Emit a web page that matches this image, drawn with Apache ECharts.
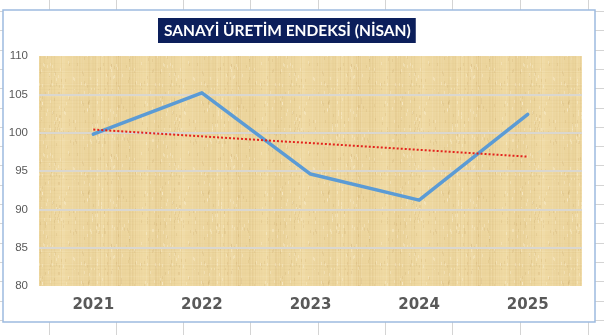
<!DOCTYPE html>
<html>
<head>
<meta charset="utf-8">
<script src="https://cdn.jsdelivr.net/npm/echarts@6/dist/echarts.min.js"></script>
<style>
  html, body { margin: 0; padding: 0; background: #ffffff; }
  #chart { width: 604px; height: 335px; }
</style>
</head>
<body>
<div id="chart"></div>
<script>
// Sanayi üretim endeksi, Nisan ayı değerleri
const years = ['2021', '2022', '2023', '2024', '2025'];
const indexValues = [99.8, 105.2, 94.6, 91.2, 102.4];
const yTicks = [80, 85, 90, 95, 100, 105, 110];
const chartTitle = 'SANAYİ ÜRETİM ENDEKSİ (NİSAN)';

// Least-squares linear trend over the yearly values
function linearTrend(values) {
  const n = values.length;
  const xm = (n - 1) / 2;
  const ym = values.reduce((a, b) => a + b, 0) / n;
  let sxy = 0, sxx = 0;
  values.forEach((v, i) => { sxy += (i - xm) * (v - ym); sxx += (i - xm) * (i - xm); });
  const slope = sxy / sxx;
  return values.map((_, i) => +(ym + slope * (i - xm)).toFixed(3));
}
const trendValues = linearTrend(indexValues);

// Papyrus-like texture tile for the plot area (deterministic streaks)
function papyrusTile() {
  const w = 120, h = 90;
  const c = document.createElement('canvas');
  c.width = w; c.height = h;
  const g = c.getContext('2d');
  g.fillStyle = '#efd9a2';
  g.fillRect(0, 0, w, h);
  const hash = (n) => { const s = Math.sin(n * 12.9898) * 43758.5453; return s - Math.floor(s); };
  // broad soft vertical bands
  for (let x = 0; x < w; x++) {
    const band = 0.5 + 0.5 * Math.sin(x / w * Math.PI * 6 + 1.3);
    g.fillStyle = 'rgba(205,170,100,' + (band * 0.08).toFixed(3) + ')';
    g.fillRect(x, 0, 1, h);
  }
  // fine vertical fibres
  for (let x = 0; x < w; x++) {
    const a = hash(x + 1);
    if (a > 0.6) {
      g.fillStyle = 'rgba(195,155,85,' + ((a - 0.6) * 0.35).toFixed(3) + ')';
      g.fillRect(x, 0, 1, h);
    } else if (a < 0.2) {
      g.fillStyle = 'rgba(255,246,220,' + ((0.2 - a) * 0.8).toFixed(3) + ')';
      g.fillRect(x, 0, 1, h);
    }
  }
  // faint horizontal fibres
  for (let y = 0; y < h; y++) {
    const b = hash(y * 7 + 31);
    if (b > 0.75) {
      g.fillStyle = 'rgba(195,155,85,' + ((b - 0.75) * 0.25).toFixed(3) + ')';
      g.fillRect(0, y, w, 1);
    } else if (b < 0.12) {
      g.fillStyle = 'rgba(255,246,220,' + ((0.12 - b) * 1.2).toFixed(3) + ')';
      g.fillRect(0, y, w, 1);
    }
  }
  for (let i = 0; i < 260; i++) {
    const x = Math.floor(hash(i * 3 + 5) * w);
    const y = Math.floor(hash(i * 5 + 11) * h);
    g.fillStyle = hash(i * 13 + 2) > 0.5 ? 'rgba(175,135,65,0.12)' : 'rgba(255,250,228,0.3)';
    g.fillRect(x, y, 1, 3);
  }
  return c;
}

// Spreadsheet cell lines behind the chart panel
const sheetLines = [];
const colXs = [49, 116, 183, 250, 318, 385, 452, 520, 588];
colXs.forEach(x => sheetLines.push({
  type: 'line', silent: true, z: -10,
  shape: { x1: x + 0.5, y1: 0, x2: x + 0.5, y2: 335 },
  style: { stroke: '#d4d4d4', lineWidth: 1 }
}));
for (let k = 0; k < 18; k++) {
  const y = Math.round(11 + 19.3 * k) + 0.5;
  sheetLines.push({
    type: 'line', silent: true, z: -10,
    shape: { x1: 0, y1: y, x2: 604, y2: y },
    style: { stroke: '#d4d4d4', lineWidth: 1 }
  });
}

const chart = echarts.init(document.getElementById('chart'), null, { renderer: 'canvas' });

const gridColors = yTicks.map((t, i) => (i === 0 || i === yTicks.length - 1) ? 'rgba(0,0,0,0)' : '#dad7cf');

chart.setOption({
  animation: false,
  backgroundColor: '#ffffff',
  graphic: sheetLines.concat([{
    type: 'rect', silent: true, z: -5,
    shape: { x: 3, y: 10, width: 592, height: 312 },
    style: { fill: '#ffffff', stroke: '#9dbbe0', lineWidth: 1.5 }
  }]),
  title: {
    text: chartTitle,
    left: 158,
    top: 18,
    backgroundColor: '#0c1f5b',
    padding: [5, 5, 4, 6],
    textStyle: {
      color: '#ffffff',
      fontFamily: 'Lato',
      fontWeight: 'bold',
      fontSize: 15.5,
      lineHeight: 16
    }
  },
  grid: {
    left: 39, right: 22, top: 56, bottom: 49,
    show: true,
    borderWidth: 0,
    backgroundColor: { image: papyrusTile(), repeat: 'repeat' }
  },
  xAxis: {
    type: 'category',
    data: years,
    boundaryGap: true,
    axisLine: { show: false },
    axisTick: { show: false },
    axisLabel: {
      margin: 12,
      color: '#595959',
      fontFamily: 'DejaVu Sans',
      fontWeight: 'bold',
      fontSize: 15
    }
  },
  yAxis: {
    type: 'value',
    min: yTicks[0],
    max: yTicks[yTicks.length - 1],
    interval: yTicks[1] - yTicks[0],
    axisLine: { show: false },
    axisTick: { show: false },
    axisLabel: {
      margin: 11,
      color: '#595959',
      fontFamily: 'Liberation Sans',
      fontSize: 11.5
    },
    splitLine: { show: true, lineStyle: { color: gridColors, width: 2 } }
  },
  series: [
    {
      name: 'Endeks',
      type: 'line',
      data: indexValues,
      symbol: 'none',
      lineStyle: { color: '#5b9bd5', width: 3.5, cap: 'round', join: 'round' },
      z: 3
    },
    {
      name: 'Doğrusal eğilim',
      type: 'line',
      data: trendValues,
      symbol: 'none',
      lineStyle: { color: '#e3231d', width: 2, type: [2, 2] },
      z: 4
    }
  ]
});
</script>
</body>
</html>
